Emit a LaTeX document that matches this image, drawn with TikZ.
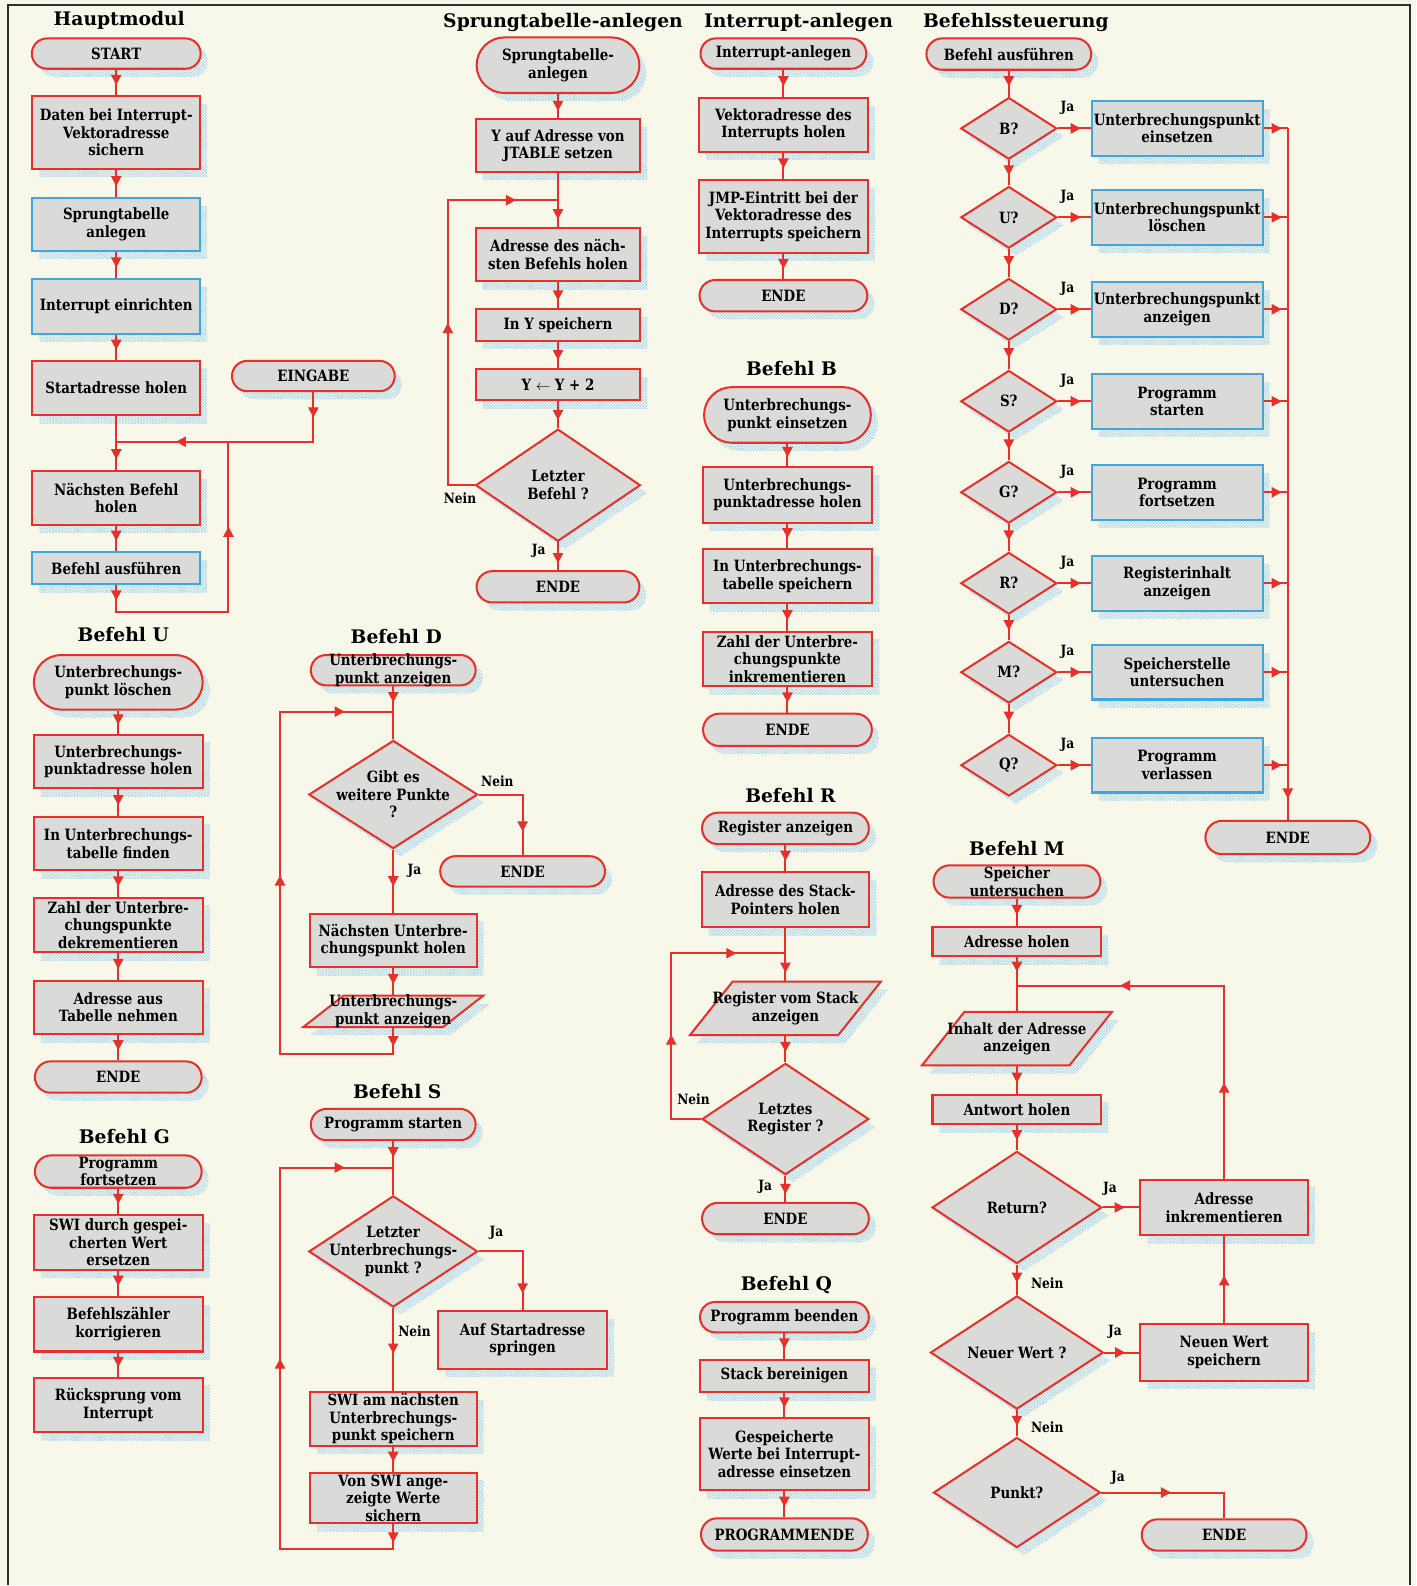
\documentclass[tikz,border=0pt]{standalone}
\usepackage{fontspec}
\newfontfamily\boxfont{DejaVu Serif}[FakeStretch=0.86]
\newfontfamily\headfont{DejaVu Serif}
\usetikzlibrary{shapes.geometric,shapes.misc,arrows.meta,decorations.markings,shadows,patterns}

\definecolor{paper}{HTML}{F8F8EA}
\definecolor{boxgray}{HTML}{DADAD8}
\definecolor{fred}{HTML}{E8302A}
\definecolor{fblue}{HTML}{3FA6E0}
\definecolor{shade}{HTML}{A8D6EE}
\definecolor{framegray}{HTML}{2E2E2E}

\newcommand\fcarrow{\arrow{Triangle[length=10pt,width=10pt]}}
\newcommand\boxtype{\boxfont\bfseries\fontsize{15.4}{17.4}\selectfont}

\tikzset{
  sz/.style 2 args={minimum width=#1pt, minimum height=#2pt},
  shapebase/.style={line width=2pt, fill=boxgray, inner sep=0pt, align=center, font=\boxtype,
    general shadow={shadow xshift=7pt, shadow yshift=-8pt, pattern=crosshatch, pattern color=shade}},
  proc/.style={shapebase, rectangle, draw=fred},
  procb/.style={shapebase, rectangle, draw=fblue},
  term/.style={shapebase, rounded rectangle, draw=fred},
  dec/.style={shapebase, diamond, draw=fred},
  io/.style={shapebase, trapezium, trapezium left angle=68, trapezium right angle=112,
    trapezium stretches=true, inner sep=2pt, draw=fred},
  tl/.style={font=\boxtype, align=center, inner sep=0pt},
  conn/.style={draw=fred, line width=2pt},
  ar/.style={postaction={decorate, decoration={markings, mark=at position #1 with {\fcarrow}}}},
  ar/.default=0.6,
  head/.style={font=\headfont\bfseries\fontsize{18.5}{21}\selectfont, inner sep=0pt},
  yn/.style={font=\boxfont\bfseries\fontsize{14}{16}\selectfont, inner sep=0pt},
}

\begin{document}
\begin{tikzpicture}[x=1pt,y=-1pt]
% paper and frame
\fill[paper] (0,0) rectangle (1401,1568);
\draw[framegray, line width=2pt] (8,1568) -- (8,5) -- (1395,5) -- (1395,1568);

% ---------------- Hauptmodul ----------------
\node[head] (t1) at (118,20) {Hauptmodul};
\node[term, sz={167}{30}] (hstart) at (115,53) {START};
\node[proc, sz={166}{72}] (hdaten) at (115,131) {Daten bei Interrupt-\\Vektoradresse\\sichern};
\node[procb, sz={166}{52}] (hsprung) at (115,222) {Sprungtabelle\\anlegen};
\node[procb, sz={166}{54}] (hint) at (115,303) {Interrupt einrichten};
\node[proc, sz={166}{54}] (hstartadr) at (115,384) {Startadresse holen};
\node[term, sz={161}{30}] (heing) at (310,372) {EINGABE};
\node[proc, sz={166}{53}] (hnext) at (115,492.5) {Nächsten Befehl\\holen};
\node[procb, sz={166}{32}] (hexec) at (115,562) {Befehl ausführen};
\coordinate (hj) at (115,437);
\coordinate (hk) at (226,437);
\coordinate (hb) at (226,605);
\draw[conn,ar] (hstart.south) -- (hdaten.north);
\draw[conn,ar] (hdaten.south) -- (hsprung.north);
\draw[conn,ar] (hsprung.south) -- (hint.north);
\draw[conn,ar] (hint.south) -- (hstartadr.north);
\draw[conn,ar=0.8] (hstartadr.south) -- (hnext.north);
\draw[conn,ar=25pt,ar=185pt] (heing.south) -- (heing.south |- hj) -- (hj);
\draw[conn,ar] (hnext.south) -- (hexec.north);
\draw[conn,ar=15pt,ar=221pt] (hexec.south) -- (hexec.south |- hb) -- (hb) -- (hk);

% ---------------- Sprungtabelle-anlegen ----------------
\node[head] (t2) at (557,22) {Sprungtabelle-anlegen};
\node[term, sz={161}{55}] (s1) at (552,64.5) {Sprungtabelle-\\anlegen};
\node[proc, sz={163}{52}] (s2) at (552,144) {Y auf Adresse von\\JTABLE setzen};
\node[proc, sz={163}{52}] (s3) at (552,252) {Adresse des näch-\\sten Befehls holen};
\node[proc, sz={163}{31}] (s4) at (552,321.5) {In Y speichern};
\node[proc, sz={163}{31}] (s5) at (552,380.5) {Y \(\leftarrow\) Y + 2};
\node[dec, sz={163}{111}, label={[tl]center:{Letzter\\Befehl ?}}] (s6) at (552,480) {};
\node[term, sz={161}{31}] (s7) at (552,580.5) {ENDE};
\coordinate (sj) at (552,198);
\coordinate (sl1) at (443,480);
\coordinate (sl2) at (443,198);
\node[yn] (s8) at (455,493) {Nein};
\node[yn] (s9) at (533,545) {Ja};
\draw[conn,ar=0.7] (s1.south) -- (s2.north);
\draw[conn,ar=0.85] (s2.south) -- (s3.north);
\draw[conn,ar=0.7] (s3.south) -- (s4.north);
\draw[conn,ar=0.7] (s4.south) -- (s5.north);
\draw[conn,ar=0.7] (s5.south) -- (s6.north);
\draw[conn,ar=0.75] (s6.south) -- (s7.north);
\draw[conn,ar=187pt,ar=376pt] (s6.west) -- (sl1) -- (sl2) -- (sj);

% ---------------- Befehl U ----------------
\node[head] (t5) at (122,628) {Befehl U};
\node[term, sz={167}{54}] (u1) at (117,675) {Unterbrechungs-\\punkt löschen};
\node[proc, sz={167}{53}] (u2) at (117,753.5) {Unterbrechungs-\\punktadresse holen};
\node[proc, sz={167}{53}] (u3) at (117,834.5) {In Unterbrechungs-\\tabelle finden};
\node[proc, sz={167}{54}] (u4) at (117,915) {Zahl der Unterbre-\\chungspunkte\\dekrementieren};
\node[proc, sz={167}{53}] (u5) at (117,996.5) {Adresse aus\\Tabelle nehmen};
\node[term, sz={165}{31}] (u6) at (117,1065.5) {ENDE};
\draw[conn,ar] (u1.south) -- (u2.north);
\draw[conn,ar] (u2.south) -- (u3.north);
\draw[conn,ar] (u3.south) -- (u4.north);
\draw[conn,ar] (u4.south) -- (u5.north);
\draw[conn,ar] (u5.south) -- (u6.north);

% ---------------- Befehl G ----------------
\node[head] (t11) at (123,1124) {Befehl G};
\node[term, sz={165}{32}, label={[tl]center:{Programm\\fortsetzen}}] (g1) at (117,1159) {};
\node[proc, sz={167}{54}] (g2) at (117,1229) {SWI durch gespei-\\cherten Wert\\ersetzen};
\node[proc, sz={167}{54}] (g3) at (117,1310) {Befehlszähler\\korrigieren};
\node[proc, sz={167}{54}] (g4) at (117,1390) {Rücksprung vom\\Interrupt};
\draw[conn,ar] (g1.south) -- (g2.north);
\draw[conn,ar] (g2.south) -- (g3.north);
\draw[conn,ar] (g3.south) -- (g4.north);

% ---------------- Befehl D ----------------
\node[head] (t6) at (392,630) {Befehl D};
\node[term, sz={163}{30}, label={[tl]center:{Unterbrechungs-\\punkt anzeigen}}] (d1) at (389,663) {};
\node[dec, sz={167}{107}, label={[tl]center:{Gibt es\\weitere Punkte\\?}}] (d2) at (389,786) {};
\node[term, sz={163}{30}] (d3) at (517,862) {ENDE};
\node[proc, sz={165}{53}] (d4) at (389,930.5) {Nächsten Unterbre-\\chungspunkt holen};
\node[io, sz={178}{31}, label={[tl]center:{Unterbrechungs-\\punkt anzeigen}}] (d5) at (389,1000.5) {};
\coordinate (dj) at (389,704);
\coordinate (dl1) at (277,1043);
\coordinate (dl2) at (277,704);
\node[yn] (d6) at (492,773) {Nein};
\node[yn] (d7) at (410,861) {Ja};
\draw[conn,ar=0.3] (d1.south) -- (d2.north);
\draw[conn,ar=80pt] (d2.east) -- (d2.east -| d3.north) -- (d3.north);
\draw[conn,ar=0.58] (d2.south) -- (d4.north);
\draw[conn,ar] (d4.south) -- (d5.north);
\draw[conn,ar=18pt,ar=315pt,ar=541pt] (d5.south) -- (d5.south |- dl1) -- (dl1) -- (dl2) -- (dj);

% ---------------- Befehl S ----------------
\node[head] (t10) at (393,1080) {Befehl S};
\node[term, sz={163}{31}] (sa) at (389,1112.5) {Programm starten};
\node[dec, sz={167}{110}, label={[tl]center:{Letzter\\Unterbrechungs-\\punkt ?}}] (sb) at (389,1238) {};
\node[proc, sz={167}{57}] (sc) at (517,1325.5) {Auf Startadresse\\springen};
\node[proc, sz={165}{53}] (sd) at (389,1403.5) {SWI am nächsten\\Unterbrechungs-\\punkt speichern};
\node[proc, sz={165}{50}] (se) at (389,1482) {Von SWI ange-\\zeigte Werte\\sichern};
\coordinate (sj2) at (389,1155);
\coordinate (sm1) at (277,1532);
\coordinate (sm2) at (277,1155);
\node[yn] (sf) at (491,1220) {Ja};
\node[yn] (sg) at (410,1317) {Nein};
\draw[conn,ar=0.3] (sa.south) -- (sb.north);
\draw[conn,ar=85pt] (sb.east) -- (sb.east -| sc.north) -- (sc.north);
\draw[conn,ar=0.55] (sb.south) -- (sd.north);
\draw[conn,ar] (sd.south) -- (se.north);
\draw[conn,ar=18pt,ar=324pt,ar=577pt] (se.south) -- (se.south |- sm1) -- (sm1) -- (sm2) -- (sj2);

% ---------------- Interrupt-anlegen ----------------
\node[head] (t3) at (790,22) {Interrupt-anlegen};
\node[term, sz={164}{30}] (i1) at (775,53) {Interrupt-anlegen};
\node[proc, sz={167}{53}] (i2) at (775,123.5) {Vektoradresse des\\Interrupts holen};
\node[proc, sz={167}{72}] (i3) at (775,214) {JMP-Eintritt bei der\\Vektoradresse des\\Interrupts speichern};
\node[term, sz={166}{31}] (i4) at (775,292.5) {ENDE};
\draw[conn,ar] (i1.south) -- (i2.north);
\draw[conn,ar] (i2.south) -- (i3.north);
\draw[conn,ar] (i3.south) -- (i4.north);

% ---------------- Befehl B ----------------
\node[head] (t7) at (783,365) {Befehl B};
\node[term, sz={165}{55}] (b1) at (779,410.5) {Unterbrechungs-\\punkt einsetzen};
\node[proc, sz={168}{55}] (b2) at (779,489.5) {Unterbrechungs-\\punktadresse holen};
\node[proc, sz={168}{54}] (b3) at (779,570) {In Unterbrechungs-\\tabelle speichern};
\node[proc, sz={168}{54}] (b4) at (779,652) {Zahl der Unterbre-\\chungspunkte\\inkrementieren};
\node[term, sz={167}{32}] (b5) at (779,722) {ENDE};
\draw[conn,ar] (b1.south) -- (b2.north);
\draw[conn,ar] (b2.south) -- (b3.north);
\draw[conn,ar] (b3.south) -- (b4.north);
\draw[conn,ar] (b4.south) -- (b5.north);

% ---------------- Befehl R ----------------
\node[head] (t8) at (782,787) {Befehl R};
\node[term, sz={165}{31}] (r1) at (777,819.5) {Register anzeigen};
\node[proc, sz={166}{54}] (r2) at (777,890) {Adresse des Stack-\\Pointers holen};
\node[io, sz={189}{53}, label={[tl]center:{Register vom Stack\\anzeigen}}] (r3) at (777,997.5) {};
\node[dec, sz={165}{110}, label={[tl]center:{Letztes\\Register ?}}] (r4) at (777,1107) {};
\node[term, sz={165}{31}] (r5) at (777,1205.5) {ENDE};
\coordinate (rj) at (777,943);
\coordinate (rl1) at (664,1107);
\coordinate (rl2) at (664,943);
\node[yn] (r6) at (686,1087) {Nein};
\node[yn] (r7) at (757,1174) {Ja};
\draw[conn,ar] (r1.south) -- (r2.north);
\draw[conn,ar=0.85] (r2.south) -- (r3.north);
\draw[conn,ar] (r3.south) -- (r4.north);
\draw[conn,ar=0.7] (r4.south) -- (r5.north);
\draw[conn,ar=113pt,ar=258pt] (r4.west) -- (rl1) -- (rl2) -- (rj);

% ---------------- Befehl Q ----------------
\node[head] (t12) at (778,1271) {Befehl Q};
\node[term, sz={167}{30}] (q1) at (776,1303) {Programm beenden};
\node[proc, sz={167}{32}] (q2) at (776,1361) {Stack bereinigen};
\node[proc, sz={167}{71}] (q3) at (776,1438.5) {Gespeicherte\\Werte bei Interrupt-\\adresse einsetzen};
\node[term, sz={165}{32}] (q4) at (776,1518) {PROGRAMMENDE};
\draw[conn,ar] (q1.south) -- (q2.north);
\draw[conn,ar] (q2.south) -- (q3.north);
\draw[conn,ar] (q3.south) -- (q4.north);

% ---------------- Befehlssteuerung ----------------
\node[head] (t4) at (1005,22) {Befehlssteuerung};
\node[term, sz={163}{31}] (c0) at (998,53.5) {Befehl ausführen};
\node[term, sz={163}{33}] (cend) at (1274,828.5) {ENDE};

\node[dec, sz={95}{61}, label={[tl]center:{B?}}] (diab) at (998,127) {};
\node[dec, sz={95}{61}, label={[tl]center:{U?}}] (diau) at (998,215) {};
\node[dec, sz={95}{61}, label={[tl]center:{D?}}] (diad) at (998,306) {};
\node[dec, sz={95}{61}, label={[tl]center:{S?}}] (dias) at (998,397) {};
\node[dec, sz={95}{61}, label={[tl]center:{G?}}] (diag) at (998,487) {};
\node[dec, sz={95}{61}, label={[tl]center:{R?}}] (diar) at (998,577) {};
\node[dec, sz={95}{61}, label={[tl]center:{M?}}] (diam) at (998,665) {};
\node[dec, sz={95}{61}, label={[tl]center:{Q?}}] (diaq) at (998,757) {};

\node[procb, sz={169}{54}] (boxb) at (1164.5,127) {Unterbrechungspunkt\\einsetzen};
\node[procb, sz={169}{54}] (boxu) at (1164.5,215) {Unterbrechungspunkt\\löschen};
\node[procb, sz={169}{54}] (boxd) at (1164.5,306) {Unterbrechungspunkt\\anzeigen};
\node[procb, sz={169}{54}] (boxs) at (1164.5,397) {Programm\\starten};
\node[procb, sz={169}{54}] (boxg) at (1164.5,487) {Programm\\fortsetzen};
\node[procb, sz={169}{54}] (boxr) at (1164.5,577) {Registerinhalt\\anzeigen};
\node[procb, sz={169}{54}] (boxm) at (1164.5,665) {Speicherstelle\\untersuchen};
\node[procb, sz={169}{54}] (boxq) at (1164.5,757) {Programm\\verlassen};

\node[yn] (jab) at (1056,107) {Ja};
\node[yn] (jau) at (1056,195) {Ja};
\node[yn] (jad) at (1056,286) {Ja};
\node[yn] (jas) at (1056,377) {Ja};
\node[yn] (jag) at (1056,467) {Ja};
\node[yn] (jar) at (1056,557) {Ja};
\node[yn] (jam) at (1056,645) {Ja};
\node[yn] (jaq) at (1056,737) {Ja};

\draw[conn,ar] (c0.south) -- (diab.north);
\draw[conn,ar] (diab.south) -- (diau.north);
\draw[conn,ar] (diau.south) -- (diad.north);
\draw[conn,ar] (diad.south) -- (dias.north);
\draw[conn,ar] (dias.south) -- (diag.north);
\draw[conn,ar] (diag.south) -- (diar.north);
\draw[conn,ar] (diar.south) -- (diam.north);
\draw[conn,ar] (diam.south) -- (diaq.north);

\draw[conn,ar=0.7] (diab.east) -- (boxb.west);
\draw[conn,ar=0.7] (diau.east) -- (boxu.west);
\draw[conn,ar=0.7] (diad.east) -- (boxd.west);
\draw[conn,ar=0.7] (dias.east) -- (boxs.west);
\draw[conn,ar=0.7] (diag.east) -- (boxg.west);
\draw[conn,ar=0.7] (diar.east) -- (boxr.west);
\draw[conn,ar=0.7] (diam.east) -- (boxm.west);
\draw[conn,ar=0.7] (diaq.east) -- (boxq.west);

\draw[conn,ar=0.75] (boxb.east) -- (boxb.east -| cend.north);
\draw[conn,ar=0.75] (boxu.east) -- (boxu.east -| cend.north);
\draw[conn,ar=0.75] (boxd.east) -- (boxd.east -| cend.north);
\draw[conn,ar=0.75] (boxs.east) -- (boxs.east -| cend.north);
\draw[conn,ar=0.75] (boxg.east) -- (boxg.east -| cend.north);
\draw[conn,ar=0.75] (boxr.east) -- (boxr.east -| cend.north);
\draw[conn,ar=0.75] (boxm.east) -- (boxm.east -| cend.north);
\draw[conn,ar=0.75] (boxq.east) -- (boxq.east -| cend.north);
\draw[conn,ar=663pt] (cend.north |- boxb.east) -- (cend.north);

% ---------------- Befehl M ----------------
\node[head] (t9) at (1006,839) {Befehl M};
\node[term, sz={165}{32}, label={[tl]center:{Speicher\\untersuchen}}] (m1) at (1006,872) {};
\node[proc, sz={167}{29}] (m2) at (1006,931.5) {Adresse holen};
\node[io, sz={188}{53}, label={[tl]center:{Inhalt der Adresse\\anzeigen}}] (m3) at (1006,1027.5) {};
\node[proc, sz={167}{29}] (m4) at (1006,1097.5) {Antwort holen};
\node[dec, sz={168}{111}, label={[tl]center:{Return?}}] (m5) at (1006,1194.5) {};
\node[proc, sz={166}{55}] (m6) at (1211,1194.5) {Adresse\\inkrementieren};
\node[dec, sz={171}{112}, label={[tl]center:{Neuer Wert ?}}] (m7) at (1006,1338) {};
\node[proc, sz={166}{56}] (m8) at (1211,1338) {Neuen Wert\\speichern};
\node[dec, sz={165}{109}, label={[tl]center:{Punkt?}}] (m9) at (1006,1476.5) {};
\node[term, sz={163}{31}] (m10) at (1211,1518.5) {ENDE};
\coordinate (mj) at (1006,975);
\node[yn] (m11) at (1098,1176) {Ja};
\node[yn] (m12) at (1036,1269) {Nein};
\node[yn] (m13) at (1103,1318) {Ja};
\node[yn] (m14) at (1036,1412) {Nein};
\node[yn] (m15) at (1106,1462) {Ja};
\draw[conn,ar] (m1.south) -- (m2.north);
\draw[conn,ar=0.27] (m2.south) -- (m3.north);
\draw[conn,ar] (m3.south) -- (m4.north);
\draw[conn,ar] (m4.south) -- (m5.north);
\draw[conn,ar=0.6] (m5.east) -- (m6.west);
\draw[conn,ar=95pt,ar=294pt] (m6.north) -- (m6.north |- mj) -- (mj);
\draw[conn,ar] (m5.south) -- (m7.north);
\draw[conn,ar] (m7.east) -- (m8.west);
\draw[conn,ar=0.55] (m8.north) -- (m6.south);
\draw[conn,ar] (m7.south) -- (m9.north);
\draw[conn,ar=69pt] (m9.east) -- (m9.east -| m10.north) -- (m10.north);
\end{tikzpicture}
\end{document}
